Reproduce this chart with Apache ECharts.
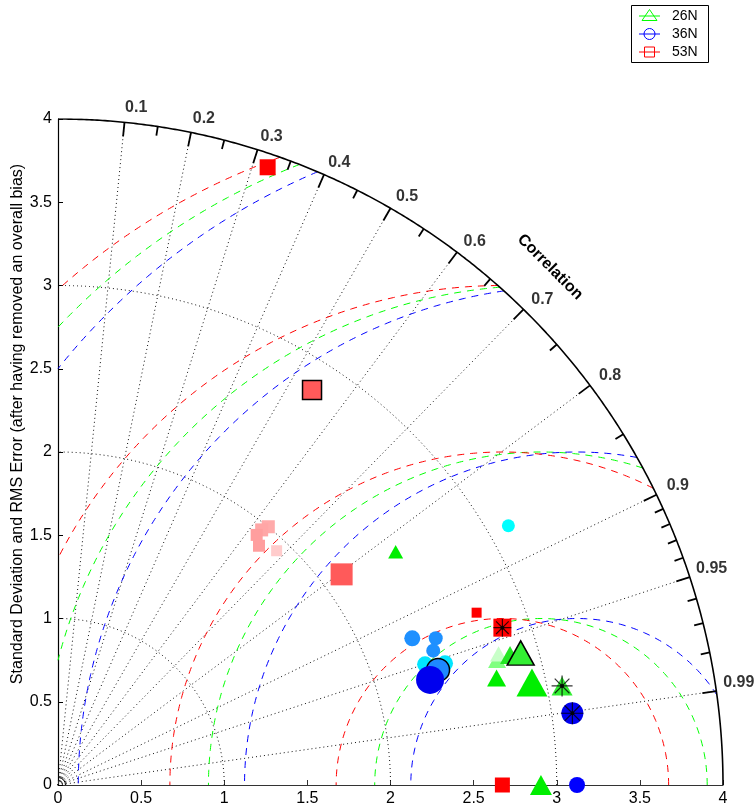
<!DOCTYPE html>
<html><head><meta charset="utf-8">
<script src="https://cdn.jsdelivr.net/npm/echarts@6/dist/echarts.min.js"></script>
<style>html,body{margin:0;padding:0;background:#fff}#c{width:756px;height:807px}</style>
</head><body><div id="c"></div>
<script>
// ---------------- data ----------------
const axisMax = 4;
const axisStep = 0.5;
const corrMajor = [0.1, 0.2, 0.3, 0.4, 0.5, 0.6, 0.7, 0.8, 0.9, 0.95, 0.99];
const corrMinor = [0.15, 0.25, 0.35, 0.45, 0.55, 0.65, 0.75, 0.85, 0.91, 0.92, 0.93, 0.94, 0.96, 0.97, 0.98];
const stdArcs = [1, 2, 3];
const rmsRadii = [1, 2, 3, 4];
const seriesNames = ['26N', '36N', '53N'];
const refStd = [2.905, 3.122, 2.673];          // reference std of 26N, 36N, 53N

// 26N  (x = std*corr, y = std*sqrt(1-corr^2))
const x26 = [2.905, 2.031, 2.641, 2.650, 2.719, 2.783, 2.638, 2.851, 3.032];
const y26 = [0.000, 1.401, 0.751, 0.787, 0.781, 0.793, 0.643, 0.616, 0.595];
// 36N
const x36 = [3.122, 2.709, 2.131, 2.272, 2.257, 2.208, 2.328, 2.286, 2.238, 3.094];
const y36 = [0.000, 1.557, 0.881, 0.881, 0.807, 0.725, 0.731, 0.691, 0.631, 0.431];
// 53N
const x53 = [2.673, 1.261, 1.528, 1.265, 1.225, 1.195, 1.209, 1.315, 1.706, 2.518, 2.673];
const y53 = [0.000, 3.710, 2.372, 1.551, 1.532, 1.502, 1.437, 1.407, 1.265, 1.035, 0.945];

// ---------------- styles ----------------
const size26 = [22, 15, 18, 17, 20, 27, 19, 31, 21];
const color26 = ['#00ee00', '#00ee00', '#80ff80', '#c8ffc8', '#22e622', '#33ee33', '#00ee00', '#00ee00', '#33ee33'];
const outline26 = [5], star26 = [8];
const size36 = [16, 13, 16, 14, 14, 16, 16, 23, 28, 22];
const color36 = ['#0000ff', '#00ffff', '#1e90ff', '#1e90ff', '#1e90ff', '#00e5ff', '#00e5ff', '#1e88ff', '#0000ee', '#0000ee'];
const outline36 = [7], star36 = [9];
const size53 = [15, 16, 19, 13, 13, 12, 12, 11, 22, 10, 18];
const color53 = ['#ff0000', '#ff0000', '#ff5a5a', '#ffaaaa', '#ffa6a6', '#ff9e9e', '#ff9e9e', '#ffcccc', '#ff5a5a', '#ff0000', '#ff0000'];
const outline53 = [2], star53 = [10];
const famColors = ['#00ff00', '#0000ff', '#ff0000'];
const FONT = '"Liberation Sans", Arial, Helvetica, sans-serif';

// ---------------- geometry helpers ----------------
function pol(r, c) { return [r * c, r * Math.sqrt(1 - c * c)]; }
function arc(cx, r, p0, p1, n) {
  const pts = [];
  for (let i = 0; i <= n; i++) { const p = p0 + (p1 - p0) * i / n; pts.push([cx + r * Math.cos(p), r * Math.sin(p)]); }
  return pts;
}
function rmsArc(c, R) {
  let p0 = 0, p1 = Math.PI;
  if (c + R > axisMax) {
    const xi = (axisMax * axisMax + c * c - R * R) / (2 * c);
    p0 = Math.acos(Math.max(-1, Math.min(1, (xi - c) / R)));
  }
  if (R > c) p1 = Math.acos(-c / R);
  return arc(c, R, p0, p1, 300);
}

const series = [];
// dotted std arcs
stdArcs.forEach(r => series.push({
  type: 'line', data: arc(0, r, 0, Math.PI / 2, 200), showSymbol: false, symbol: 'none', silent: true,
  lineStyle: { color: '#111', width: 1, type: [1, 3] }, z: 1
}));
// tiny arc near origin
series.push({ type: 'line', data: arc(0, 0.045, 0, Math.PI / 2, 30), symbol: 'none', silent: true,
  lineStyle: { color: '#000', width: 1 }, z: 1 });
// dotted correlation rays
series.push({
  type: 'lines', coordinateSystem: 'cartesian2d', silent: true, z: 1,
  lineStyle: { color: '#111', width: 1, type: [1, 3], opacity: 1 },
  data: corrMajor.map(c => ({ coords: [[0, 0], pol(axisMax, c)] }))
});
// RMS dashed circles
refStd.forEach((c, k) => rmsRadii.forEach(R => series.push({
  type: 'line', data: rmsArc(c, R), symbol: 'none', silent: true, z: 2,
  lineStyle: { color: famColors[k], width: 1, type: [7, 6] }
})));
// outer arc
series.push({ type: 'line', data: arc(0, axisMax, 0, Math.PI / 2, 400), symbol: 'none', silent: true, z: 3,
  lineStyle: { color: '#000', width: 1.6 } });
// correlation ticks
series.push({
  type: 'lines', coordinateSystem: 'cartesian2d', silent: true, z: 3,
  lineStyle: { color: '#000', width: 1.8, opacity: 1 },
  data: corrMajor.map(c => ({ coords: [pol(axisMax, c), pol(axisMax - 0.085, c)] }))
    .concat(corrMinor.map(c => ({ coords: [pol(axisMax, c), pol(axisMax - 0.055, c)] })))
});
// correlation labels
series.push({
  type: 'scatter', silent: true, z: 4, symbolSize: 1, itemStyle: { color: 'rgba(0,0,0,0)' },
  data: corrMajor.map(c => ({
    value: pol(axisMax, c),
    label: { show: true, position: 'inside', formatter: String(c), offset: [10.5 + 12 * c, -15.5 + 7.5 * c],
      color: '#000', fontSize: 16, fontWeight: 'bold', fontFamily: FONT, textBorderWidth: 0, textBorderColor: 'transparent' }
  }))
});
// markers
const STAR = 'path://M10,0L10,20M0,10L20,10M3,3L17,17M3,17L17,3';
function markers(xs, ys, sizes, colors, outl, symbol, isTri) {
  return xs.map((x, i) => ({
    value: [x, ys[i]],
    symbol: symbol,
    symbolSize: isTri ? [sizes[i], sizes[i] * 0.9] : sizes[i],
    itemStyle: { color: colors[i], borderColor: outl.includes(i) ? '#000' : colors[i],
      borderWidth: outl.includes(i) ? 1.5 : 0, opacity: 1 }
  }));
}
series.push({ type: 'scatter', silent: true, z: 5, clip: false, data: markers(x53, y53, size53, color53, outline53, 'rect', false) });
series.push({ type: 'scatter', silent: true, z: 5, clip: false, data: markers(x36, y36, size36, color36, outline36, 'circle', false) });
series.push({ type: 'scatter', silent: true, z: 5, clip: false, data: markers(x26, y26, size26, color26, outline26, 'triangle', true) });
// asterisks on best points
const stars = [[x53, y53, star53, size53], [x36, y36, star36, size36], [x26, y26, star26, size26]];
stars.forEach(([xs, ys, idx, sz]) => {
  series.push({ type: 'scatter', silent: true, z: 6, clip: false, symbol: STAR, symbolKeepAspect: true,
    itemStyle: { color: 'rgba(0,0,0,0)', borderColor: '#000', borderWidth: 1.2 },
    data: idx.map(i => ({ value: [xs[i], ys[i]], symbolSize: sz[i] })) });
  series.push({ type: 'scatter', silent: true, z: 6, clip: false, symbol: 'circle', symbolSize: 4,
    itemStyle: { color: '#000' }, data: idx.map(i => [xs[i], ys[i]]) });
});

// legend (graphic)
const legY = [16, 34, 52];
const legendEls = [{ type: 'rect', shape: { x: 631.5, y: 5.5, width: 77, height: 57 }, style: { fill: '#fff', stroke: '#000', lineWidth: 1 } }];
seriesNames.forEach((n, k) => {
  const col = famColors[k];
  const y = legY[k];
  legendEls.push({ type: 'line', shape: { x1: 639, y1: y, x2: 660, y2: y }, style: { stroke: col, lineWidth: 1 } });
  if (k === 0) legendEls.push({ type: 'polygon', shape: { points: [[649.5, y - 6.5], [657, y + 4.5], [642, y + 4.5]] }, style: { fill: 'none', stroke: col, lineWidth: 1 } });
  if (k === 1) legendEls.push({ type: 'circle', shape: { cx: 649.5, cy: y, r: 5.5 }, style: { fill: 'none', stroke: col, lineWidth: 1 } });
  if (k === 2) legendEls.push({ type: 'rect', shape: { x: 644.5, y: y - 5, width: 10, height: 10 }, style: { fill: 'none', stroke: col, lineWidth: 1 } });
  legendEls.push({ type: 'text', x: 672, y: y, style: { text: n, fill: '#000', font: '14px ' + FONT, textVerticalAlign: 'middle' } });
});

const option = {
  animation: false,
  backgroundColor: '#fff',
  textStyle: { fontFamily: FONT },
  grid: { left: 58, top: 119, width: 665, height: 666 },
  xAxis: {
    type: 'value', min: 0, max: axisMax, interval: axisStep,
    axisLine: { show: true, onZero: false, lineStyle: { color: '#333', width: 1.2 } },
    axisTick: { show: true, inside: true, length: 5, lineStyle: { color: '#333' } },
    axisLabel: { color: '#000', fontSize: 16, margin: 6, fontFamily: FONT },
    splitLine: { show: false }
  },
  yAxis: {
    type: 'value', min: 0, max: axisMax, interval: axisStep,
    axisLine: { show: true, onZero: false, lineStyle: { color: '#000', width: 1.2 } },
    axisTick: { show: true, inside: true, length: 5, lineStyle: { color: '#000' } },
    axisLabel: { color: '#000', fontSize: 16, margin: 6, fontFamily: FONT },
    splitLine: { show: false }
  },
  graphic: [
    { type: 'text', x: 18, y: 424, rotation: Math.PI / 2,
      style: { text: 'Standard Deviation and RMS Error (after having removed an overall bias)', fill: '#000',
        font: '16px ' + FONT, textAlign: 'center', textVerticalAlign: 'middle' } },
    { type: 'text', x: 550, y: 267, rotation: -Math.PI / 4,
      style: { text: 'Correlation', fill: '#000', font: 'bold 16px ' + FONT, textAlign: 'center', textVerticalAlign: 'middle' } },
    { type: 'group', children: legendEls }
  ],
  series: series
};
const chart = echarts.init(document.getElementById('c'));
chart.setOption(option);
</script></body></html>
